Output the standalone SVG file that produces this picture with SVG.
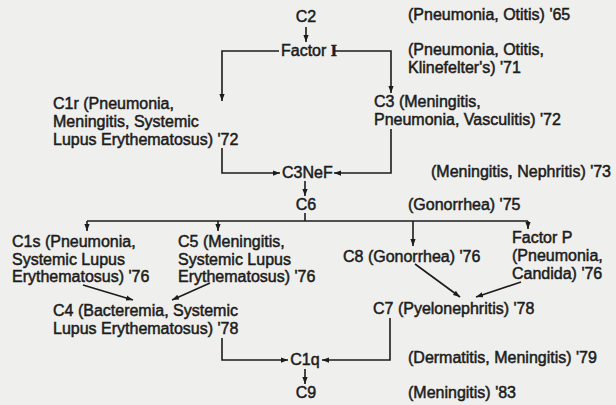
<svg xmlns="http://www.w3.org/2000/svg" width="616" height="405" viewBox="0 0 616 405">
<defs>
<style>
text{font-family:"Liberation Sans",Arial,sans-serif;font-size:16px;fill:#1c1c1c;stroke:#1c1c1c;stroke-width:0.5}
.serif{font-family:"Liberation Serif","Times New Roman",serif;font-weight:bold}
.c{fill:none;stroke:#1c1c1c;stroke-width:1.6}
</style>
<marker id="ah" viewBox="0 0 8 6" refX="8" refY="3" markerWidth="7" markerHeight="5.5" markerUnits="userSpaceOnUse" orient="auto">
<path d="M0,0 L8,3 L0,6 z" fill="#1c1c1c"/>
</marker>
</defs>
<rect width="616" height="405" fill="#efefed"/>
<g id="connectors">
<path class="c" d="M306,27 V42" marker-end="url(#ah)"/>
<path class="c" d="M279,51 H222 V101" marker-end="url(#ah)"/>
<path class="c" d="M335,51 H391 V93" marker-end="url(#ah)"/>
<path class="c" d="M222,148 V173 H280" marker-end="url(#ah)"/>
<path class="c" d="M391,129 V173 H334" marker-end="url(#ah)"/>
<path class="c" d="M305,181 V196" marker-end="url(#ah)"/>
<path class="c" d="M305,213 V221 M87,221 H528"/>
<path class="c" d="M87,221 V231" marker-end="url(#ah)"/>
<path class="c" d="M218,221 V231" marker-end="url(#ah)"/>
<path class="c" d="M413,221 V246" marker-end="url(#ah)"/>
<path class="c" d="M528,221 V229" marker-end="url(#ah)"/>
<path class="c" d="M83,285 L133,300" marker-end="url(#ah)"/>
<path class="c" d="M210,283 L172,300" marker-end="url(#ah)"/>
<path class="c" d="M415,264 L460,297" marker-end="url(#ah)"/>
<path class="c" d="M521,282 L476,297" marker-end="url(#ah)"/>
<path class="c" d="M222,338 V360 H288" marker-end="url(#ah)"/>
<path class="c" d="M390,318 V360 H322" marker-end="url(#ah)"/>
<path class="c" d="M305,369 V384" marker-end="url(#ah)"/>
</g>
<g id="C2"><text x="306" y="22" text-anchor="middle">C2</text></g>
<g id="FactorI"><text x="281" y="56">Factor <tspan class="serif">I</tspan></text></g>
<g id="C1r"><text x="53" y="109">C1r (Pneumonia,</text><text x="53" y="127">Meningitis, Systemic</text><text x="53" y="145">Lupus Erythematosus) '72</text></g>
<g id="C3"><text x="374" y="107">C3 (Meningitis,</text><text x="374" y="125">Pneumonia, Vasculitis) '72</text></g>
<g id="C3NeF"><text x="282" y="178">C3NeF</text></g>
<g id="C6"><text x="306" y="210" text-anchor="middle">C6</text></g>
<g id="C1s"><text x="12" y="247">C1s (Pneumonia,</text><text x="12" y="265">Systemic Lupus</text><text x="12" y="282">Erythematosus) '76</text></g>
<g id="C5"><text x="178" y="247">C5 (Meningitis,</text><text x="178" y="265">Systemic Lupus</text><text x="178" y="282">Erythematosus) '76</text></g>
<g id="C8"><text x="343" y="262">C8 (Gonorrhea) '76</text></g>
<g id="FactorP"><text x="512" y="243">Factor P</text><text x="512" y="261">(Pneumonia,</text><text x="512" y="279">Candida) '76</text></g>
<g id="C4"><text x="53" y="316">C4 (Bacteremia, Systemic</text><text x="53" y="334">Lupus Erythematosus) '78</text></g>
<g id="C7"><text x="373" y="314">C7 (Pyelonephritis) '78</text></g>
<g id="C1q"><text x="305" y="365" text-anchor="middle">C1q</text></g>
<g id="C9"><text x="306" y="398" text-anchor="middle">C9</text></g>
<g id="labels">
<text x="408" y="20">(Pneumonia, Otitis) '65</text>
<text x="408" y="55">(Pneumonia, Otitis,</text>
<text x="408" y="73">Klinefelter's) '71</text>
<text x="431" y="177">(Meningitis, Nephritis) '73</text>
<text x="408" y="210">(Gonorrhea) '75</text>
<text x="408" y="363">(Dermatitis, Meningitis) '79</text>
<text x="408" y="398">(Meningitis) '83</text>
</g>
</svg>
